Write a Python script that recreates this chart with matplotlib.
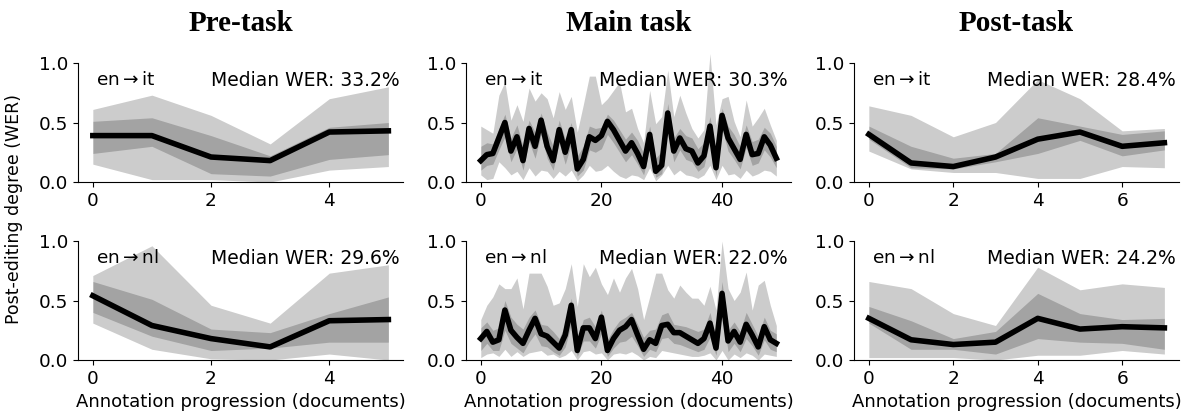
import matplotlib.pyplot as plt

# -----------------------------
# Data
# -----------------------------
phases = ["Pre-task", "Main task", "Post-task"]
langs = ["en$\\rightarrow$it", "en$\\rightarrow$nl"]
median_wer = [["33.2%", "30.3%", "28.4%"], ["29.6%", "22.0%", "24.2%"]]

# Pre-task, en->it
pre_it_med = [0.39, 0.39, 0.21, 0.18, 0.42, 0.43]
pre_it_q25 = [0.24, 0.30, 0.07, 0.05, 0.19, 0.23]
pre_it_q75 = [0.51, 0.54, 0.39, 0.22, 0.46, 0.50]
pre_it_min = [0.15, 0.02, 0.02, 0.00, 0.10, 0.13]
pre_it_max = [0.61, 0.73, 0.56, 0.32, 0.70, 0.80]

# Pre-task, en->nl
pre_nl_med = [0.54, 0.29, 0.18, 0.11, 0.33, 0.34]
pre_nl_q25 = [0.40, 0.20, 0.08, 0.10, 0.15, 0.15]
pre_nl_q75 = [0.66, 0.51, 0.26, 0.23, 0.39, 0.53]
pre_nl_min = [0.31, 0.09, 0.01, 0.00, 0.05, 0.00]
pre_nl_max = [0.71, 0.96, 0.46, 0.31, 0.73, 0.80]

# Main task, en->it
main_it_med = [0.18, 0.23, 0.24, 0.37, 0.50, 0.26, 0.38, 0.18, 0.45, 0.30,
               0.52, 0.30, 0.18, 0.44, 0.25, 0.44, 0.11, 0.19, 0.38, 0.35,
               0.39, 0.51, 0.44, 0.35, 0.26, 0.33, 0.24, 0.13, 0.40, 0.09,
               0.14, 0.58, 0.26, 0.37, 0.28, 0.26, 0.16, 0.22, 0.47, 0.12,
               0.56, 0.37, 0.28, 0.19, 0.40, 0.23, 0.24, 0.38, 0.31, 0.20]
main_it_q25 = [0.10, 0.14, 0.15, 0.27, 0.38, 0.17, 0.28, 0.10, 0.34, 0.20,
               0.40, 0.20, 0.10, 0.33, 0.15, 0.32, 0.05, 0.10, 0.27, 0.25,
               0.28, 0.40, 0.33, 0.25, 0.17, 0.23, 0.15, 0.06, 0.29, 0.04,
               0.07, 0.45, 0.17, 0.27, 0.19, 0.17, 0.09, 0.13, 0.35, 0.05,
               0.45, 0.26, 0.19, 0.11, 0.29, 0.14, 0.16, 0.27, 0.21, 0.12]
main_it_q75 = [0.30, 0.33, 0.32, 0.45, 0.57, 0.37, 0.48, 0.30, 0.52, 0.42,
               0.58, 0.42, 0.30, 0.52, 0.36, 0.50, 0.22, 0.30, 0.47, 0.45,
               0.46, 0.57, 0.52, 0.44, 0.36, 0.42, 0.35, 0.24, 0.47, 0.20,
               0.26, 0.66, 0.37, 0.45, 0.39, 0.37, 0.28, 0.33, 0.55, 0.26,
               0.62, 0.47, 0.40, 0.30, 0.48, 0.34, 0.36, 0.46, 0.41, 0.30]
main_it_min = [0.06, 0.02, 0.03, 0.17, 0.12, 0.06, 0.09, 0.02, 0.12, 0.05,
               0.10, 0.09, 0.03, 0.09, 0.05, 0.10, 0.01, 0.06, 0.14, 0.09,
               0.10, 0.14, 0.09, 0.05, 0.03, 0.06, 0.05, 0.02, 0.12, 0.01,
               0.06, 0.14, 0.06, 0.10, 0.06, 0.05, 0.03, 0.06, 0.14, 0.02,
               0.14, 0.06, 0.07, 0.03, 0.10, 0.05, 0.07, 0.10, 0.09, 0.05]
main_it_max = [0.47, 0.44, 0.41, 0.73, 0.84, 0.52, 0.65, 0.51, 0.79, 0.68,
               0.75, 0.70, 0.54, 0.76, 0.61, 0.72, 0.42, 0.65, 0.89, 0.89,
               0.65, 0.70, 0.77, 0.84, 0.59, 0.62, 0.45, 0.33, 0.77, 0.49,
               0.55, 0.94, 0.55, 0.73, 0.58, 0.45, 0.37, 0.44, 1.08, 0.48,
               0.70, 0.72, 0.51, 0.38, 0.69, 0.47, 0.54, 0.62, 0.48, 0.35]

# Main task, en->nl
main_nl_med = [0.18, 0.24, 0.15, 0.17, 0.42, 0.25, 0.19, 0.14, 0.25, 0.35,
               0.22, 0.20, 0.15, 0.10, 0.21, 0.46, 0.08, 0.27, 0.27, 0.18,
               0.36, 0.08, 0.18, 0.25, 0.28, 0.34, 0.21, 0.09, 0.17, 0.14,
               0.29, 0.30, 0.23, 0.23, 0.20, 0.17, 0.14, 0.18, 0.31, 0.10,
               0.56, 0.16, 0.24, 0.15, 0.30, 0.21, 0.11, 0.28, 0.17, 0.14]
main_nl_q25 = [0.08, 0.14, 0.08, 0.08, 0.25, 0.14, 0.10, 0.06, 0.15, 0.22,
               0.12, 0.11, 0.07, 0.04, 0.11, 0.30, 0.03, 0.16, 0.16, 0.10,
               0.22, 0.03, 0.10, 0.15, 0.16, 0.20, 0.12, 0.03, 0.09, 0.07,
               0.18, 0.19, 0.14, 0.13, 0.11, 0.09, 0.07, 0.09, 0.19, 0.04,
               0.42, 0.07, 0.14, 0.07, 0.18, 0.12, 0.04, 0.17, 0.09, 0.07]
main_nl_q75 = [0.27, 0.32, 0.25, 0.27, 0.50, 0.36, 0.30, 0.26, 0.36, 0.42,
               0.30, 0.29, 0.24, 0.18, 0.30, 0.52, 0.17, 0.34, 0.36, 0.28,
               0.42, 0.17, 0.26, 0.33, 0.36, 0.40, 0.30, 0.19, 0.25, 0.26,
               0.38, 0.40, 0.30, 0.29, 0.28, 0.26, 0.24, 0.26, 0.40, 0.18,
               0.66, 0.25, 0.32, 0.24, 0.40, 0.30, 0.20, 0.36, 0.25, 0.22]
main_nl_min = [0.02, 0.05, 0.06, 0.03, 0.09, 0.03, 0.07, 0.03, 0.06, 0.07,
               0.08, 0.04, 0.05, 0.02, 0.04, 0.08, 0.00, 0.07, 0.08, 0.05,
               0.06, 0.00, 0.05, 0.06, 0.05, 0.07, 0.04, 0.00, 0.03, 0.02,
               0.08, 0.07, 0.06, 0.05, 0.04, 0.03, 0.03, 0.04, 0.06, 0.00,
               0.08, 0.00, 0.05, 0.02, 0.06, 0.04, 0.00, 0.05, 0.04, 0.03]
main_nl_max = [0.34, 0.46, 0.53, 0.64, 0.60, 0.60, 0.69, 0.43, 0.73, 0.73,
               0.73, 0.62, 0.46, 0.48, 0.60, 0.81, 0.45, 0.81, 0.70, 0.78,
               0.64, 0.55, 0.69, 0.57, 0.69, 0.77, 0.60, 0.34, 0.53, 0.73,
               0.73, 0.59, 0.52, 0.63, 0.57, 0.52, 0.52, 0.46, 0.62, 0.42,
               1.00, 0.60, 0.50, 0.57, 0.74, 0.42, 0.63, 0.67, 0.46, 0.29]

# Post-task, en->it
post_it_med = [0.40, 0.16, 0.13, 0.21, 0.36, 0.42, 0.30, 0.33]
post_it_q25 = [0.36, 0.12, 0.11, 0.17, 0.24, 0.35, 0.22, 0.27]
post_it_q75 = [0.47, 0.30, 0.20, 0.24, 0.54, 0.47, 0.40, 0.43]
post_it_min = [0.26, 0.11, 0.08, 0.08, 0.03, 0.03, 0.13, 0.12]
post_it_max = [0.64, 0.56, 0.38, 0.50, 0.86, 0.70, 0.43, 0.45]

# Post-task, en->nl
post_nl_med = [0.35, 0.17, 0.13, 0.15, 0.35, 0.26, 0.28, 0.27]
post_nl_q25 = [0.31, 0.09, 0.09, 0.05, 0.18, 0.15, 0.14, 0.09]
post_nl_q75 = [0.45, 0.33, 0.18, 0.24, 0.56, 0.39, 0.34, 0.35]
post_nl_min = [0.02, 0.02, 0.02, 0.00, 0.04, 0.04, 0.08, 0.05]
post_nl_max = [0.66, 0.60, 0.39, 0.29, 0.78, 0.59, 0.64, 0.61]

panels = [
    [(pre_it_med, pre_it_q25, pre_it_q75, pre_it_min, pre_it_max),
     (main_it_med, main_it_q25, main_it_q75, main_it_min, main_it_max),
     (post_it_med, post_it_q25, post_it_q75, post_it_min, post_it_max)],
    [(pre_nl_med, pre_nl_q25, pre_nl_q75, pre_nl_min, pre_nl_max),
     (main_nl_med, main_nl_q25, main_nl_q75, main_nl_min, main_nl_max),
     (post_nl_med, post_nl_q25, post_nl_q75, post_nl_min, post_nl_max)],
]
xticks = [[0, 2, 4], [0, 20, 40], [0, 2, 4, 6]]

plt.rcParams["font.family"] = "DejaVu Sans"
plt.rcParams["font.size"] = 13


def draw_panel(ax, series, row, col):
    med, q25, q75, lo, hi = series
    x = list(range(len(med)))
    ax.fill_between(x, lo, hi, color="black", alpha=0.2, linewidth=0,
                    clip_on=False)
    ax.fill_between(x, q25, q75, color="black", alpha=0.2, linewidth=0)
    ax.plot(x, med, color="black", linewidth=4)

    ax.set_ylim(0, 1)
    ax.set_yticks([0.0, 0.5, 1.0])
    ax.set_xticks(xticks[col])
    ax.spines["top"].set_visible(False)
    ax.spines["right"].set_visible(False)
    ax.tick_params(labelsize=13.3)

    ax.text(0.055, 0.93, langs[row], transform=ax.transAxes,
            ha="left", va="top", fontsize=13.3)
    ax.text(0.99, 0.93, "Median WER: " + median_wer[row][col],
            transform=ax.transAxes, ha="right", va="top", fontsize=13.5)


def main():
    fig = plt.figure(figsize=(11.97, 4.19), dpi=100)

    lefts = [0.0652, 0.3893, 0.7135]
    width = 0.2716
    bottoms = [0.5656, 0.1408]
    height = 0.2840

    for row in range(2):
        for col in range(3):
            ax = fig.add_axes([lefts[col], bottoms[row], width, height])
            draw_panel(ax, panels[row][col], row, col)
            if row == 0:
                ax.set_title(phases[col], fontsize=21, fontweight="bold",
                             family="Liberation Serif", pad=23)
            else:
                ax.set_xlabel("Annotation progression (documents)",
                              fontsize=13, labelpad=4)

    fig.text(0.012, 0.5, "Post-editing degree (WER)", rotation=90,
             ha="center", va="center", fontsize=12.5)

    fig.savefig("out.png", dpi=100)
    plt.close(fig)


if __name__ == "__main__":
    main()
